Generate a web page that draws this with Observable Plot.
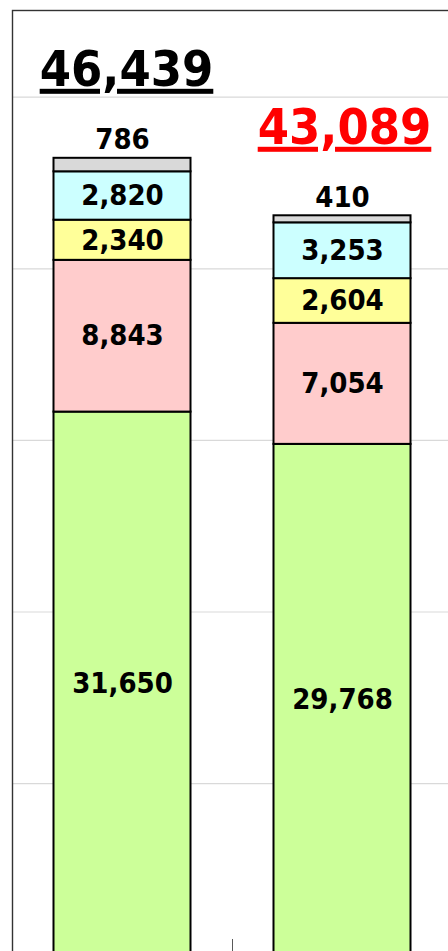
<!DOCTYPE html>
<html>
<head>
<meta charset="utf-8">
<script src="https://cdn.jsdelivr.net/npm/d3@7"></script>
<script src="https://cdn.jsdelivr.net/npm/@observablehq/plot@0.6"></script>
<style>
  html, body { margin: 0; padding: 0; background: white; }
  #chart { width: 448px; height: 951px; overflow: hidden; position: relative; }
</style>
</head>
<body>
<div id="chart"></div>
<script>
// ---- data ----
const categories = ["A", "B"];
const seriesNames = ["s1", "s2", "s3", "s4", "s5"]; // bottom to top
const valuesA = [31650, 8843, 2340, 2820, 786];
const valuesB = [29768, 7054, 2604, 3253, 410];
const totals = [46439, 43089];
const yTicks = [0, 10000, 20000, 30000, 40000, 50000];

// ---- build table ----
const seriesColors = ["#ccff99", "#ffcccc", "#ffff99", "#ccffff", "#d9d9d9"];
const fmt = d3.format(",");
const rows = [];
[valuesA, valuesB].forEach((vals, ci) => {
  let acc = 0;
  vals.forEach((v, si) => {
    rows.push({cat: categories[ci], s: seriesNames[si], v, y1: acc, y2: acc + v, mid: acc + v / 2, top: si === vals.length - 1});
    acc += v;
  });
});
const inside = rows.filter(d => !d.top);
const above = rows.filter(d => d.top);
const totalRows = categories.map((c, i) => ({cat: c, total: totals[i]}));

const font = "'DejaVu Sans Condensed', 'DejaVu Sans', sans-serif";

const chart = Plot.plot({
  width: 470,
  height: 970,
  marginLeft: 12,
  marginTop: 10,
  marginRight: 0,
  marginBottom: 0,
  style: {maxWidth: "none", overflow: "hidden", fontFamily: font, background: "white"},
  x: {domain: categories, range: [11.5, 451.5], padding: 0, axis: null},
  y: {domain: [0, 50000], range: [954.7, 96.7], axis: null},
  color: {domain: seriesNames, range: seriesColors},
  marks: [
    Plot.gridY(yTicks, {stroke: "#d9d9d9", strokeOpacity: 1, strokeWidth: 1.2}),
    Plot.frame({stroke: "#333333", strokeWidth: 1.4}),
    Plot.ruleX([categories[0]], {x: d => d, dx: 110, y1: 0, y2: 915, stroke: "#595959", strokeWidth: 1}),
    Plot.barY(rows, {x: "cat", y1: "y1", y2: "y2", fill: "s", stroke: "black", strokeWidth: 2, insetLeft: 41.5, insetRight: 41.5}),
    Plot.text(inside, {x: "cat", y: "mid", text: d => fmt(d.v), fontSize: 29, fontWeight: "bold", fill: "black", fontFamily: font}),
    Plot.text(above, {x: "cat", y: "y2", text: d => fmt(d.v), dy: -9, lineAnchor: "bottom", fontSize: 29, fontWeight: "bold", fill: "black", fontFamily: font}),
    Plot.text([totalRows[0]], {x: "cat", y: "total", text: d => fmt(d.total), dy: -72.5, dx: 4, lineAnchor: "bottom", fontSize: 50, fontWeight: "bold", fill: "black", fontFamily: font, ariaDescription: "total"}),
    Plot.text([totalRows[1]], {x: "cat", y: "total", text: d => fmt(d.total), dy: -72, dx: 2, lineAnchor: "bottom", fontSize: 50, fontWeight: "bold", fill: "#ff0000", fontFamily: font, ariaDescription: "total"})
  ]
});
chart.querySelectorAll('g[aria-description="total"] text').forEach(t => {
  t.style.textDecoration = "underline";
});
document.getElementById("chart").appendChild(chart);
</script>
</body>
</html>
